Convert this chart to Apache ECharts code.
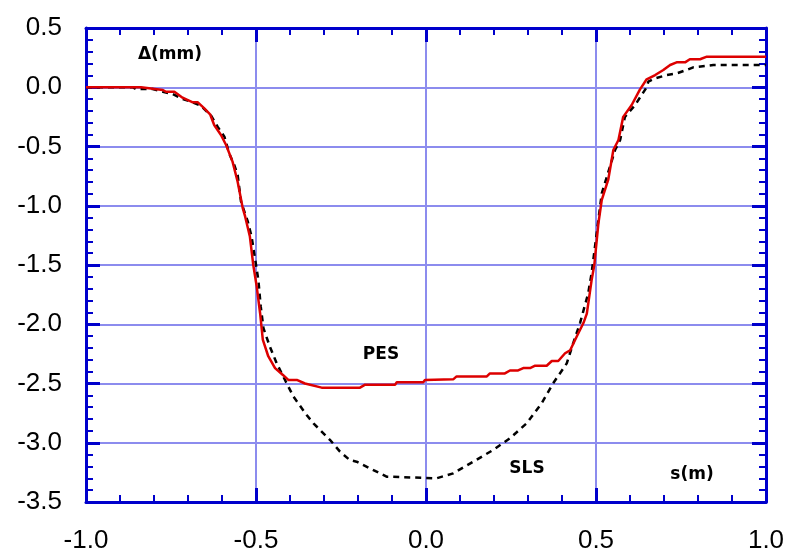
<!DOCTYPE html>
<html>
<head>
<meta charset="utf-8">
<title>PES / SLS</title>
<script src="https://cdn.jsdelivr.net/npm/echarts@6/dist/echarts.min.js"></script>
<style>
  html, body { margin: 0; padding: 0; background: #fff; }
  #main { width: 791px; height: 557px; }
</style>
</head>
<body>
<div id="main"></div>
<script>
// axis ticks
const xTicks = [-1.0, -0.5, 0.0, 0.5, 1.0]
const yTicks = [-3.5, -3.0, -2.5, -2.0, -1.5, -1.0, -0.5, 0.0, 0.5]

// PES (red solid)
const pesS = [-1.0, -0.838, -0.833, -0.774, -0.765, -0.740, -0.716, -0.686, -0.671, -0.652,
  -0.635, -0.623, -0.603, -0.588, -0.569, -0.554, -0.539, -0.532, -0.518, -0.508,
  -0.498, -0.488, -0.480, -0.464, -0.444, -0.420, -0.405, -0.380, -0.356, -0.307,
  -0.194, -0.179, -0.091, -0.086, -0.008, -0.003, 0.080, 0.090, 0.179, 0.188,
  0.232, 0.247, 0.271, 0.286, 0.306, 0.321, 0.355, 0.370, 0.389, 0.409,
  0.424, 0.443, 0.463, 0.473, 0.487, 0.495, 0.507, 0.517, 0.536, 0.551,
  0.566, 0.580, 0.605, 0.629, 0.649, 0.674, 0.698, 0.718, 0.737, 0.762,
  0.776, 0.806, 0.826, 1.0]
const pesDelta = [0, 0, -0.015, -0.023, -0.038, -0.038, -0.088, -0.127, -0.127, -0.178,
  -0.228, -0.319, -0.403, -0.487, -0.628, -0.797, -1.02, -1.09, -1.26, -1.50,
  -1.68, -1.905, -2.13, -2.27, -2.37, -2.43, -2.47, -2.47, -2.50, -2.535,
  -2.535, -2.51, -2.51, -2.49, -2.49, -2.47, -2.465, -2.44, -2.44, -2.415,
  -2.415, -2.39, -2.39, -2.37, -2.37, -2.35, -2.35, -2.31, -2.31, -2.245,
  -2.22, -2.105, -1.99, -1.91, -1.63, -1.50, -1.15, -0.95, -0.78, -0.53,
  -0.445, -0.25, -0.15, -0.02, 0.067, 0.103, 0.146, 0.188, 0.21, 0.21,
  0.236, 0.236, 0.258, 0.258]

// SLS (black dashed)
const slsS = [-1.0, -0.863, -0.853, -0.804, -0.774, -0.745, -0.716, -0.686, -0.662, -0.632,
  -0.613, -0.593, -0.579, -0.564, -0.554, -0.544, -0.524, -0.513, -0.503, -0.493,
  -0.486, -0.478, -0.459, -0.439, -0.420, -0.390, -0.351, -0.331, -0.282, -0.253,
  -0.224, -0.204, -0.165, -0.116, 0.031, 0.080, 0.139, 0.198, 0.247, 0.296,
  0.340, 0.374, 0.414, 0.433, 0.453, 0.477, 0.487, 0.497, 0.507, 0.517,
  0.541, 0.556, 0.571, 0.585, 0.615, 0.649, 0.654, 0.674, 0.708, 0.737,
  0.767, 0.786, 0.845, 1.0]
const slsDelta = [0, 0, -0.015, -0.015, -0.038, -0.057, -0.099, -0.127, -0.156, -0.24,
  -0.333, -0.417, -0.557, -0.656, -0.74, -0.966, -1.135, -1.26, -1.443, -1.627,
  -1.852, -2.034, -2.19, -2.33, -2.44, -2.61, -2.766, -2.836, -2.977, -3.075,
  -3.146, -3.16, -3.216, -3.286, -3.30, -3.258, -3.16, -3.06, -2.962, -2.836,
  -2.667, -2.498, -2.33, -2.16, -1.99, -1.74, -1.57, -1.346, -1.12, -0.895,
  -0.67, -0.53, -0.445, -0.25, -0.15, 0.0, 0.047, 0.075, 0.103, 0.117,
  0.146, 0.168, 0.188, 0.188]

const AXIS_BLUE = '#0000cc'
const GRID_BLUE = '#8c8cee'

const chart = echarts.init(document.getElementById('main'))

const pair = (xs, ys) => xs.map((x, i) => [x, ys[i]])

const xBase = {
  type: 'value',
  min: xTicks[0],
  max: xTicks[xTicks.length - 1],
  interval: 0.5,
  axisLine: { show: true, onZero: false, lineStyle: { color: AXIS_BLUE, width: 3 } },
  axisTick: { show: true, inside: true, length: 14, lineStyle: { color: AXIS_BLUE, width: 3 } },
  minorTick: { show: true, splitNumber: 5, length: 7, lineStyle: { color: AXIS_BLUE, width: 2 } },
  splitLine: { show: false },
}
const yBase = {
  type: 'value',
  min: yTicks[0],
  max: yTicks[yTicks.length - 1],
  interval: 0.5,
  axisLine: { show: true, onZero: false, lineStyle: { color: AXIS_BLUE, width: 3 } },
  axisTick: { show: true, inside: true, length: 14, lineStyle: { color: AXIS_BLUE, width: 3 } },
  minorTick: { show: true, splitNumber: 5, length: 7, lineStyle: { color: AXIS_BLUE, width: 2 } },
  splitLine: { show: false },
}

// tick labels are large in the reference
const labelFont = { color: '#000', fontFamily: 'Liberation Sans, Arial, sans-serif', fontSize: 26 }
const noteFont = { fill: '#000', fontFamily: 'DejaVu Sans, Verdana, sans-serif', fontWeight: 'bold', fontSize: 17 }

const option = {
  animation: false,
  backgroundColor: '#fff',
  grid: { left: 86, top: 28, width: 680, height: 474 },
  xAxis: [
    Object.assign({}, xBase, {
      position: 'bottom',
      splitLine: { show: true, lineStyle: { color: GRID_BLUE, width: 2 } },
      axisLabel: Object.assign({ margin: 26, formatter: (v) => v.toFixed(1) }, labelFont),
    }),
    Object.assign({}, xBase, { position: 'top', axisLabel: { show: false } }),
  ],
  yAxis: [
    Object.assign({}, yBase, {
      position: 'left',
      splitLine: { show: true, lineStyle: { color: GRID_BLUE, width: 2 } },
      axisLabel: Object.assign({ margin: 24, formatter: (v) => v.toFixed(1) }, labelFont),
    }),
    Object.assign({}, yBase, { position: 'right', axisLabel: { show: false } }),
  ],
  series: [
    {
      name: 'SLS',
      type: 'line',
      xAxisIndex: 0,
      yAxisIndex: 0,
      showSymbol: false,
      data: pair(slsS, slsDelta),
      lineStyle: { color: '#000', width: 2.5, type: [6, 5] },
      z: 3,
    },
    {
      name: 'PES',
      type: 'line',
      xAxisIndex: 0,
      yAxisIndex: 0,
      showSymbol: false,
      data: pair(pesS, pesDelta),
      lineStyle: { color: '#dd0000', width: 2.5 },
      z: 4,
    },
  ],
  graphic: [
    { type: 'text', x: 170, y: 55, style: Object.assign({ text: 'Δ(mm)', align: 'center', verticalAlign: 'middle' }, noteFont) },
    { type: 'text', x: 381, y: 355, style: Object.assign({ text: 'PES', align: 'center', verticalAlign: 'middle' }, noteFont) },
    { type: 'text', x: 527, y: 469, style: Object.assign({ text: 'SLS', align: 'center', verticalAlign: 'middle' }, noteFont) },
    { type: 'text', x: 692, y: 475, style: Object.assign({ text: 's(m)', align: 'center', verticalAlign: 'middle' }, noteFont) },
  ],
}

chart.setOption(option)
</script>
</body>
</html>
